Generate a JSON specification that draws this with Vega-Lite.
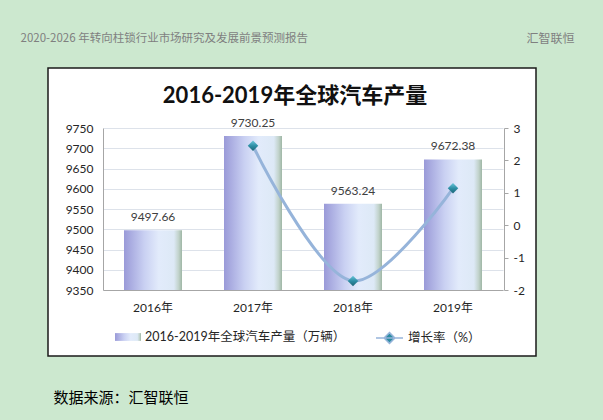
{
  "$schema": "https://vega.github.io/schema/vega-lite/v6.json",
  "autosize": "none",
  "width": 488,
  "height": 288,
  "padding": {"left": 48, "top": 68, "right": 67, "bottom": 64},
  "background": "#cce8cf",
  "config": {
    "view": {"fill": "#ffffff", "stroke": "#1a1a1a", "strokeWidth": 1.5},
    "font": "Lato, 'Noto Sans CJK SC'",
    "axis": {"labelFont": "Lato, 'Noto Sans CJK SC'", "labelFontSize": 12, "labelColor": "#262626", "titleFont": "'Noto Sans CJK SC'", "titleFontWeight": "normal", "titleAngle": 0, "titleAlign": "left", "titleBaseline": "middle"},
    "legend": {"labelFont": "Lato, 'Noto Sans CJK SC'", "labelFontSize": 12.5, "labelColor": "#262626", "labelLimit": 400}
  },
  "title": {
    "text": "2016-2019年全球汽车产量",
    "font": "Lato, 'Noto Sans CJK SC'",
    "fontSize": 22,
    "fontWeight": "bold",
    "color": "#111111",
    "anchor": "middle",
    "frame": "group",
    "baseline": "middle",
    "offset": -86,
    "dx": 3
  },
  "data": {
    "values": [
      {"year": "2016年", "output": 9497.66, "growth": null},
      {"year": "2017年", "output": 9730.25, "growth": 2.45},
      {"year": "2018年", "output": 9563.24, "growth": -1.72},
      {"year": "2019年", "output": 9672.38, "growth": 1.14}
    ]
  },
  "encoding": {
    "x": {
      "field": "year",
      "type": "nominal",
      "scale": {"range": [55, 455], "paddingInner": 0.42, "paddingOuter": 0.21},
      "axis": {
        "orient": "bottom",
        "offset": -66,
        "labelAngle": 0,
        "ticks": false,
        "tickSize": 0,
        "labelPadding": 12,
        "domainColor": "#a6a6a6",
        "grid": false,
        "title": "汇智联恒",
        "titleX": 478,
        "titleY": -252,
        "titleFontSize": 12,
        "titleColor": "#7f7f7f"
      }
    }
  },
  "layer": [
    {
      "encoding": {
        "y": {
          "field": "output",
          "type": "quantitative",
          "scale": {"domain": [9350, 9750], "range": [222, 60], "zero": false, "nice": false},
          "axis": {
            "orient": "left",
            "offset": -55,
            "values": [9350, 9400, 9450, 9500, 9550, 9600, 9650, 9700, 9750],
            "labelExpr": "'' + datum.value",
            "ticks": false,
            "tickSize": 0,
            "labelPadding": 10,
            "domainColor": "#a6a6a6",
            "grid": true,
            "gridColor": "#dde2ea",
            "title": "数据来源：汇智联恒",
            "titleX": -50,
            "titleY": 329,
            "titleFontSize": 15,
            "titleColor": "#000000"
          }
        }
      },
      "layer": [
        {
          "mark": {
            "type": "bar",
            "fill": {"gradient": "linear", "x1": 0, "y1": 0, "x2": 1, "y2": 0, "stops": [
              {"offset": 0, "color": "#9a9ad8"},
              {"offset": 0.35, "color": "#c9d0f2"},
              {"offset": 0.6, "color": "#e2ebfb"},
              {"offset": 0.86, "color": "#dde9f6"},
              {"offset": 0.94, "color": "#c2d3cc"},
              {"offset": 1, "color": "#9fb7a5"}
            ]}
          },
          "encoding": {"y2": {"datum": 9350}}
        },
        {
          "transform": [{"filter": "false"}],
          "mark": {
            "type": "point",
            "filled": true,
            "opacity": 1,
            "strokeWidth": 0,
            "fill": {"gradient": "linear", "x1": 0, "y1": 0, "x2": 1, "y2": 0, "stops": [
              {"offset": 0, "color": "#9a9ad8"},
              {"offset": 0.35, "color": "#c9d0f2"},
              {"offset": 0.6, "color": "#e2ebfb"},
              {"offset": 0.86, "color": "#dde9f6"},
              {"offset": 0.94, "color": "#c2d3cc"},
              {"offset": 1, "color": "#9fb7a5"}
            ]}
          },
          "encoding": {
            "shape": {
              "datum": "2016-2019年全球汽车产量（万辆）",
              "scale": {"range": ["M-1,-0.3H1V0.3H-1Z"]},
              "legend": {
                "orient": "none",
                "legendX": 67,
                "legendY": 256,
                "title": null,
                "padding": 0,
                "symbolSize": 676,
                "symbolStrokeWidth": 0,
                "symbolOpacity": 1,
                "labelOffset": 4
              }
            }
          }
        },
        {
          "mark": {"type": "text", "dy": -13, "fontSize": 12, "color": "#404040", "baseline": "middle"},
          "encoding": {"text": {"field": "output", "type": "quantitative", "format": ".2f"}}
        }
      ]
    },
    {
      "encoding": {
        "y": {
          "field": "growth",
          "type": "quantitative",
          "scale": {"domain": [-2, 3], "range": [222, 60], "zero": false, "nice": false},
          "axis": {
            "orient": "right",
            "offset": -32,
            "values": [-2, -1, 0, 1, 2, 3],
            "labelExpr": "'' + datum.value",
            "ticks": true,
            "tickSize": 4,
            "tickColor": "#a6a6a6",
            "labelPadding": 5,
            "domainColor": "#a6a6a6",
            "grid": false,
            "title": "2020-2026 年转向柱锁行业市场研究及发展前景预测报告",
            "titleX": -484,
            "titleY": -30,
            "titleFontSize": 11.5,
            "titleColor": "#7f7f7f"
          }
        }
      },
      "layer": [
        {
          "mark": {"type": "line", "interpolate": "catmull-rom", "strokeWidth": 3, "stroke": "#96b4da"},
          "encoding": {}
        },
        {
          "mark": {
            "type": "point",
            "shape": "diamond",
            "filled": true,
            "size": 110,
            "opacity": 1,
            "strokeWidth": 0,
            "fill": {"gradient": "linear", "x1": 0, "y1": 0, "x2": 0, "y2": 1, "stops": [
              {"offset": 0, "color": "#6cc6da"},
              {"offset": 0.5, "color": "#2e8fa6"},
              {"offset": 1, "color": "#1d6476"}
            ]}
          },
          "encoding": {}
        },
        {
          "transform": [{"filter": "false"}],
          "mark": {
            "type": "point",
            "filled": true,
            "opacity": 1,
            "fill": "#2b8ba1",
            "stroke": "#96b4da",
            "strokeWidth": 2
          },
          "encoding": {
            "shape": {
              "datum": "增长率（%）",
              "scale": {"range": ["M-1,0H1M0,-0.4L0.4,0L0,0.4L-0.4,0Z"]},
              "legend": {
                "orient": "none",
                "legendX": 327,
                "legendY": 255.5,
                "title": null,
                "padding": 0,
                "symbolSize": 729,
                "symbolStrokeWidth": 1.5,
                "symbolOpacity": 1,
                "labelOffset": 4
              }
            }
          }
        }
      ]
    }
  ],
  "resolve": {"scale": {"y": "independent", "shape": "independent"}}
}
